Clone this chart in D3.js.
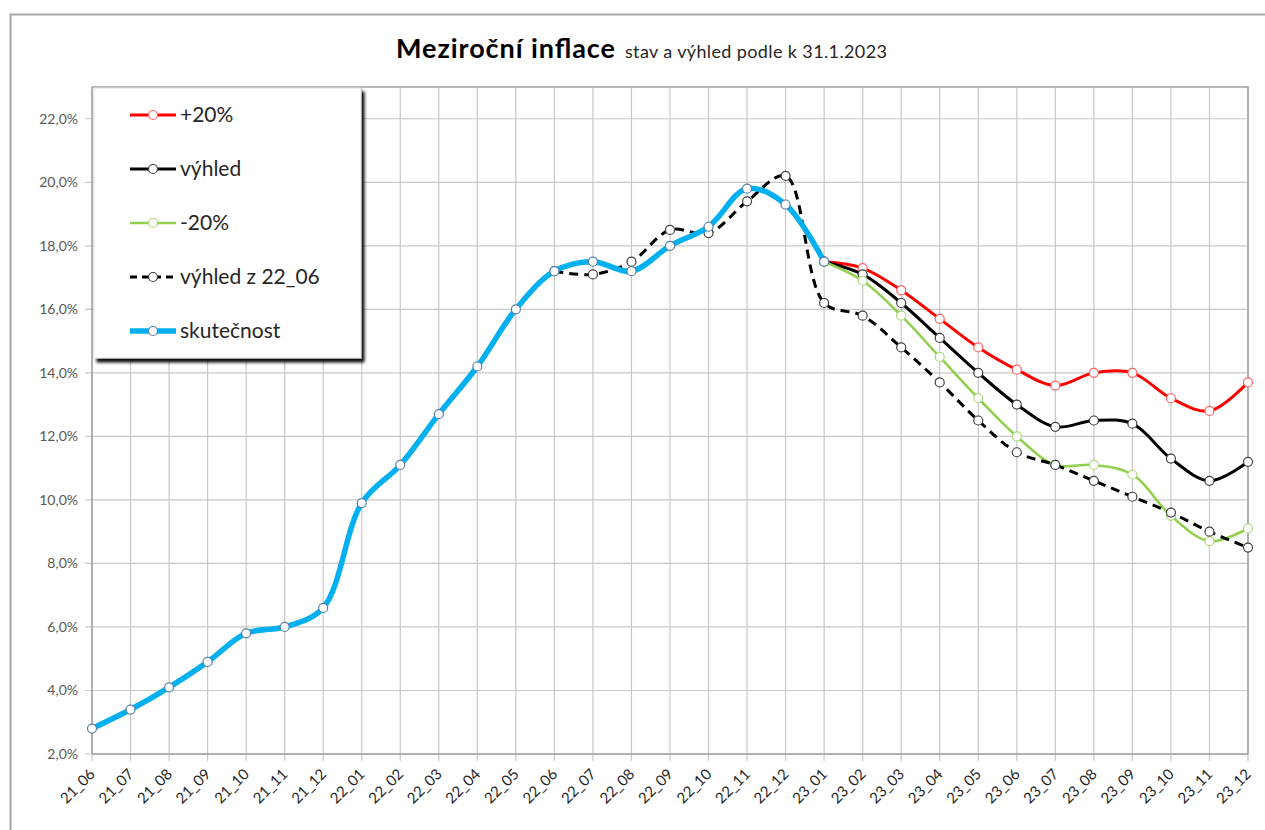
<!DOCTYPE html>
<html>
<head>
<meta charset="utf-8">
<script src="https://cdn.jsdelivr.net/npm/d3@7"></script>
<style>
  body { margin: 0; background: #fff; }
  svg { display: block; font-family: Lato, "Open Sans", sans-serif; }
</style>
</head>
<body>
<svg id="chart" width="1265" height="830"></svg>
<script>
// -----------------------------
// Data (values in %)
// -----------------------------
const months = [
  "21_06", "21_07", "21_08", "21_09", "21_10", "21_11", "21_12",
  "22_01", "22_02", "22_03", "22_04", "22_05", "22_06", "22_07", "22_08",
  "22_09", "22_10", "22_11", "22_12",
  "23_01", "23_02", "23_03", "23_04", "23_05", "23_06", "23_07", "23_08",
  "23_09", "23_10", "23_11", "23_12",
];

// skutečnost: 21_06 .. 23_01
const actual = [2.8, 3.4, 4.1, 4.9, 5.8, 6.0, 6.6, 9.9, 11.1, 12.7, 14.2, 16.0,
  17.2, 17.5, 17.2, 18.0, 18.6, 19.8, 19.3, 17.5];

// forecasts: 23_01 .. 23_12
const plus20 = [17.5, 17.3, 16.6, 15.7, 14.8, 14.1, 13.6, 14.0, 14.0, 13.2, 12.8, 13.7];
const outlook = [17.5, 17.1, 16.2, 15.1, 14.0, 13.0, 12.3, 12.5, 12.4, 11.3, 10.6, 11.2];
const minus20 = [17.5, 16.9, 15.8, 14.5, 13.2, 12.0, 11.1, 11.1, 10.8, 9.5, 8.7, 9.1];

// výhled z 22_06: 22_06 .. 23_12
const outlookJune = [17.2, 17.1, 17.5, 18.5, 18.4, 19.4, 20.2, 16.2, 15.8, 14.8,
  13.7, 12.5, 11.5, 11.1, 10.6, 10.1, 9.6, 9.0, 8.5];

const yTicks = [2, 4, 6, 8, 10, 12, 14, 16, 18, 20, 22];

// -----------------------------
// Layout
// -----------------------------
const svg = d3.select("#chart");
const plot = { left: 92, right: 1248, top: 87, bottom: 754 };

const x = d3.scalePoint().domain(months).range([plot.left, plot.right]);
const y = d3.scaleLinear().domain([2, 23]).range([plot.bottom, plot.top]);

// outer frame
svg.append("rect")
  .attr("x", 10.5).attr("y", 14.5)
  .attr("width", 1400).attr("height", 1000)
  .attr("fill", "none")
  .attr("stroke", "#a6a6a6")
  .attr("stroke-width", 2);

// -----------------------------
// Title
// -----------------------------
const title = svg.append("text")
  .attr("x", 396).attr("y", 58)
  .style("fill", "#000");
title.append("tspan")
  .style("font-size", "27px").style("font-weight", "700")
  .attr("textLength", 219)
  .text("Meziroční inflace");
title.append("tspan")
  .attr("dx", 9)
  .style("font-size", "18px")
  .style("fill", "#262626")
  .attr("textLength", 262)
  .text("stav a výhled podle k 31.1.2023");

// -----------------------------
// Grid
// -----------------------------
const grid = svg.append("g");
grid.selectAll(".vgrid")
  .data(months)
  .join("line")
  .attr("x1", (d) => x(d)).attr("x2", (d) => x(d))
  .attr("y1", plot.top).attr("y2", plot.bottom + 7)
  .attr("stroke", "#c8c8c8")
  .attr("stroke-width", 1.2);

grid.selectAll(".hgrid")
  .data(yTicks)
  .join("line")
  .attr("x1", plot.left - 7).attr("x2", plot.right)
  .attr("y1", (d) => y(d)).attr("y2", (d) => y(d))
  .attr("stroke", "#c8c8c8")
  .attr("stroke-width", 1.2);

// plot border (top / right) and axes lines
svg.append("path")
  .attr("d", `M${plot.left},${plot.top}H${plot.right}V${plot.bottom}`)
  .attr("fill", "none")
  .attr("stroke", "#a0a0a0")
  .attr("stroke-width", 1.5);
svg.append("line")
  .attr("x1", plot.left).attr("x2", plot.left)
  .attr("y1", plot.top).attr("y2", plot.bottom)
  .attr("stroke", "#a0a0a0").attr("stroke-width", 1.5);
svg.append("line")
  .attr("x1", plot.left).attr("x2", plot.right)
  .attr("y1", plot.bottom).attr("y2", plot.bottom)
  .attr("stroke", "#a0a0a0").attr("stroke-width", 1.5);

// y labels
svg.append("g")
  .selectAll("text")
  .data(yTicks)
  .join("text")
  .attr("x", plot.left - 14)
  .attr("y", (d) => y(d) + 5)
  .attr("text-anchor", "end")
  .style("font-size", "14px")
  .style("fill", "#595959")
  .text((d) => d.toFixed(1).replace(".", ",") + "%");

// x labels
svg.append("g")
  .selectAll("text")
  .data(months)
  .join("text")
  .attr("transform", (d) => `translate(${x(d) + 4},${plot.bottom + 21}) rotate(-45)`)
  .attr("text-anchor", "end")
  .style("font-size", "15px")
  .style("fill", "#262626")
  .text((d) => d);

// -----------------------------
// Series
// -----------------------------
const series = [
  { name: "+20%", start: "23_01", values: plus20, color: "#ff0000", width: 3, marker: "#ff6060", dash: null },
  { name: "výhled", start: "23_01", values: outlook, color: "#000000", width: 3, marker: "#404040", dash: null },
  { name: "-20%", start: "23_01", values: minus20, color: "#92d050", width: 2.6, marker: "#a8d878", dash: null },
  { name: "výhled z 22_06", start: "22_06", values: outlookJune, color: "#000000", width: 3, marker: "#404040", dash: "9,6" },
  { name: "skutečnost", start: "21_06", values: actual, color: "#00b0f0", width: 5.5, marker: "#5b7fa6", dash: null },
];

const line = d3.line()
  .x((d) => x(d.m))
  .y((d) => y(d.v))
  .curve(d3.curveCatmullRom.alpha(0.5));

series.forEach((s) => {
  const i0 = months.indexOf(s.start);
  const pts = s.values.map((v, i) => ({ m: months[i0 + i], v }));
  const g = svg.append("g");
  g.append("path")
    .datum(pts)
    .attr("d", line)
    .attr("fill", "none")
    .attr("stroke", s.color)
    .attr("stroke-width", s.width)
    .attr("stroke-dasharray", s.dash)
    .attr("stroke-linejoin", "round");
  g.selectAll("circle")
    .data(pts)
    .join("circle")
    .attr("cx", (d) => x(d.m))
    .attr("cy", (d) => y(d.v))
    .attr("r", 4.5)
    .attr("fill", "#fff")
    .attr("stroke", s.marker)
    .attr("stroke-width", 1.2);
});

// -----------------------------
// Legend
// -----------------------------
const defs = svg.append("defs");
const shadow = defs.append("filter")
  .attr("id", "legendShadow")
  .attr("x", "-5%").attr("y", "-5%")
  .attr("width", "115%").attr("height", "115%");
shadow.append("feDropShadow")
  .attr("dx", 3).attr("dy", 4)
  .attr("stdDeviation", 1.5)
  .attr("flood-color", "#000")
  .attr("flood-opacity", 0.95);

const legend = svg.append("g").attr("transform", "translate(94,88)");
legend.append("rect")
  .attr("width", 267).attr("height", 270)
  .attr("fill", "#fff")
  .attr("stroke", "#e0e0e0")
  .attr("filter", "url(#legendShadow)");

const items = legend.selectAll(".item")
  .data(series)
  .join("g")
  .attr("transform", (d, i) => `translate(0,${27 + i * 54})`);
items.append("line")
  .attr("x1", 36).attr("x2", 82)
  .attr("stroke", (d) => d.color)
  .attr("stroke-width", (d) => d.width)
  .attr("stroke-dasharray", (d) => (d.dash ? "7,5" : null));
items.append("circle")
  .attr("cx", 59).attr("r", 4.5)
  .attr("fill", "#fff")
  .attr("stroke", (d) => d.marker)
  .attr("stroke-width", 1.2);
items.append("text")
  .attr("x", 86).attr("y", 7)
  .style("font-size", "21px")
  .style("fill", "#262626")
  .text((d) => d.name);
</script>
</body>
</html>
